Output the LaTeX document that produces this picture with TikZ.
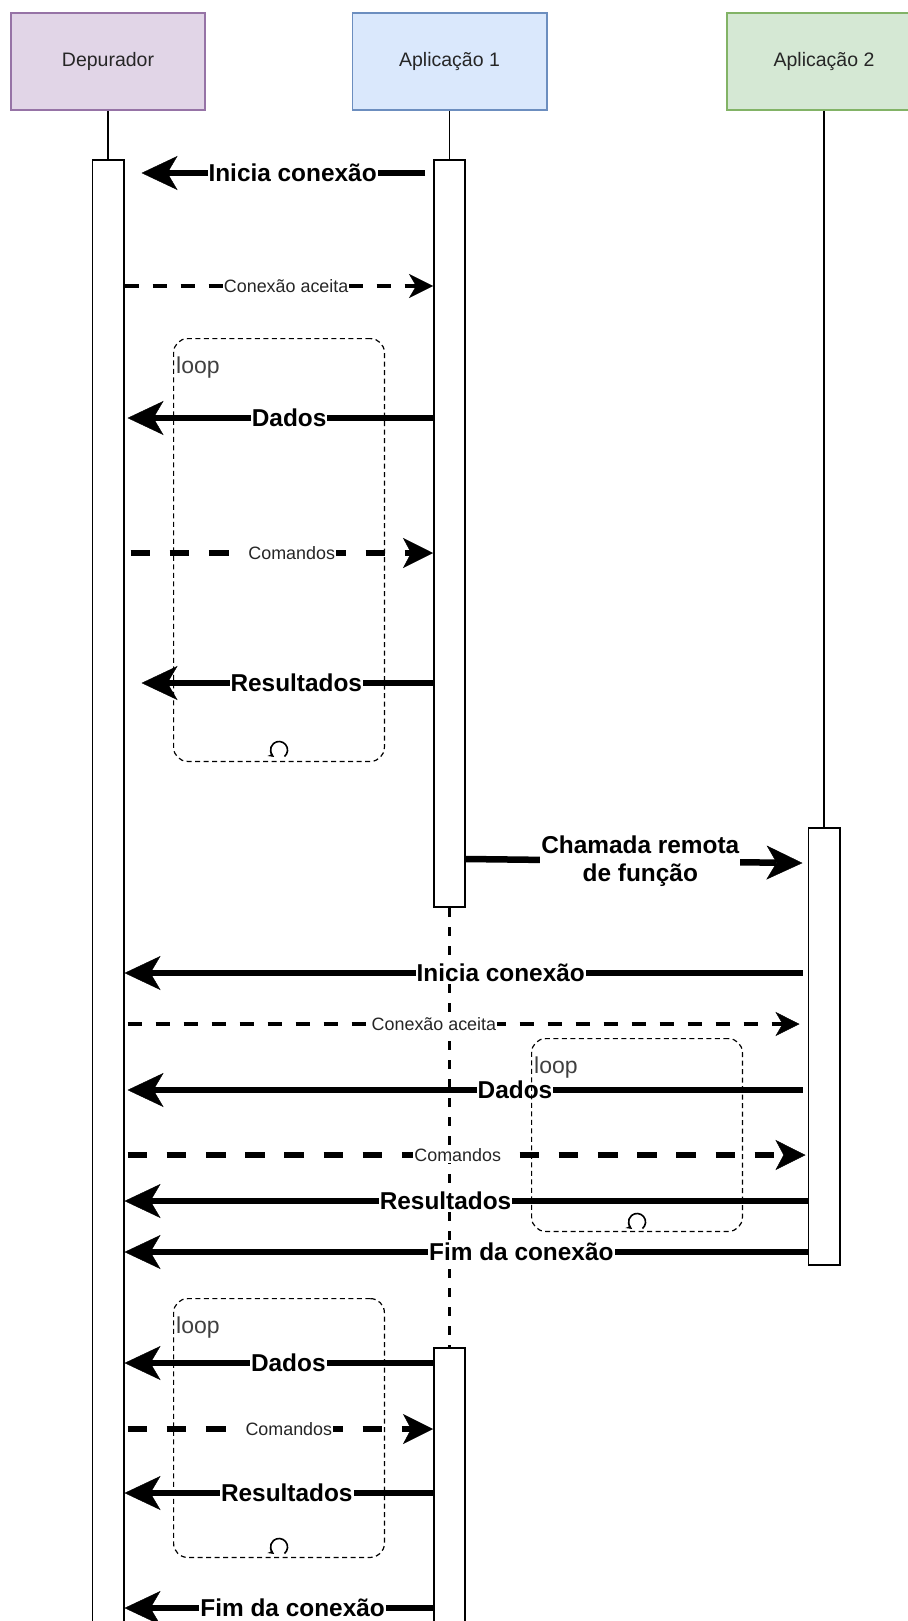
\documentclass[tikz,border=0pt]{standalone}
\usepackage{fontspec}
\setmainfont{Liberation Sans}
\usetikzlibrary{arrows.meta}
\definecolor{depfill}{HTML}{E1D5E7}
\definecolor{depline}{HTML}{9673A6}
\definecolor{appAfill}{HTML}{DAE8FC}
\definecolor{appAline}{HTML}{6C8EBF}
\definecolor{appBfill}{HTML}{D5E8D4}
\definecolor{appBline}{HTML}{82B366}
\tikzset{
  actor/.style={draw, line width=1.6pt, minimum width=194.4pt, minimum height=97.4pt, inner sep=0pt, text=black!85, font=\fontsize{19.5pt}{23pt}\selectfont},
  actbar/.style={draw, line width=1.6pt, fill=white, minimum width=31.4pt, inner sep=0pt, anchor=north},
  lifeline/.style={line width=1.6pt},
  gapline/.style={line width=3pt, dash pattern=on 9pt off 10pt},
  callarrow/.style={line width=6.5pt, -{Stealth[length=36pt, width=34pt, inset=10pt, line width=0.4pt]}},
  replyarrow/.style={line width=4.7pt, dash pattern=on 14pt off 14pt, -{Stealth[length=24pt, width=24pt, inset=7pt, line width=0.4pt]}},
  cmdarrow/.style={line width=6.5pt, dash pattern=on 19.6pt off 19.6pt, -{Stealth[length=30pt, width=30pt, inset=8pt, line width=0.4pt]}},
  biglabel/.style={fill=white, inner sep=1pt, font=\bfseries\fontsize{24.4pt}{28pt}\selectfont},
  smalllabel/.style={fill=white, inner sep=1pt, text=black!85, font=\fontsize{17.9pt}{20pt}\selectfont},
  loopbox/.style={draw, line width=1.2pt, dash pattern=on 5pt off 3.5pt, rounded corners=14pt, minimum width=210.8pt, inner sep=0pt, anchor=north west},
  looptag/.style={anchor=north west, inner sep=0pt, text=black!75, font=\fontsize{23pt}{26pt}\selectfont},
  loopicon/.style={line width=1.6pt, -{Stealth[length=6pt, width=6pt]}}
}
\begin{document}
\begin{tikzpicture}[x=1pt, y=-1pt]
\useasboundingbox (0,0) rectangle (907,1621);
\node[actor, fill=depfill, draw=depline] (dep) at (108,61.5) {Depurador};
\node[actor, fill=appAfill, draw=appAline] (appA) at (449.5,61.5) {Aplicação 1};
\node[actor, fill=appBfill, draw=appBline] (appB) at (824,61.5) {Aplicação 2};
\node[actbar, minimum height=1540pt] (depbar) at (108,159) {};
\node[actbar, minimum height=747.4pt] (appAbar) at (449.5,159) {};
\node[actbar, minimum height=437.4pt] (appBbar) at (824,827) {};
\node[actbar, minimum height=351pt] (appAbar2) at (449.5,1347) {};
\draw[lifeline] (dep.south) -- (depbar.north);
\draw[lifeline] (appA.south) -- (appAbar.north);
\draw[lifeline] (appB.south) -- (appBbar.north);
\draw[gapline] (appAbar.south) -- (appAbar2.north);

\draw[callarrow] ([xshift=-8pt]appAbar.west |- 0,173) -- node[biglabel, pos=0.467] {Inicia conexão} ([xshift=17pt]depbar.east |- 0,173);
\draw[replyarrow] (depbar.east |- 0,286) -- node[smalllabel, pos=0.524] {Conexão aceita} (appAbar.west |- 0,286);
\draw[callarrow] (appAbar.west |- 0,418) -- node[biglabel, pos=0.471] {Dados} ([xshift=3pt]depbar.east |- 0,418);
\draw[cmdarrow] ([xshift=6pt]depbar.east |- 0,553) -- node[smalllabel, pos=0.533] {Comandos} (appAbar.west |- 0,553);
\draw[callarrow] (appAbar.west |- 0,683) -- node[biglabel, pos=0.469] {Resultados} ([xshift=17pt]depbar.east |- 0,683);
\draw[callarrow] (appAbar.east |- 0,859) -- node[biglabel, align=center, pos=0.518] {Chamada remota\\de função} ([xshift=-5pt]appBbar.west |- 0,863);
\draw[callarrow] ([xshift=-5pt]appBbar.west |- 0,973) -- node[biglabel, pos=0.445] {Inicia conexão} (depbar.east |- 0,973);
\draw[replyarrow] ([xshift=3pt]depbar.east |- 0,1024) -- node[smalllabel, pos=0.456] {Conexão aceita} ([xshift=-8pt]appBbar.west |- 0,1024);
\draw[callarrow] ([xshift=-5pt]appBbar.west |- 0,1090) -- node[biglabel, pos=0.426] {Dados} ([xshift=3pt]depbar.east |- 0,1090);
\draw[cmdarrow] ([xshift=3pt]depbar.east |- 0,1155) -- node[smalllabel, pos=0.487] {Comandos} ([xshift=-2pt]appBbar.west |- 0,1155);
\draw[callarrow] (appBbar.west |- 0,1201) -- node[biglabel, pos=0.53] {Resultados} (depbar.east |- 0,1201);
\draw[callarrow] (appBbar.west |- 0,1252) -- node[biglabel, pos=0.419] {Fim da conexão} (depbar.east |- 0,1252);
\draw[callarrow] (appAbar2.west |- 0,1363) -- node[biglabel, pos=0.469] {Dados} (depbar.east |- 0,1363);
\draw[cmdarrow] ([xshift=3pt]depbar.east |- 0,1429) -- node[smalllabel, pos=0.528] {Comandos} (appAbar2.west |- 0,1429);
\draw[callarrow] (appAbar2.west |- 0,1493) -- node[biglabel, pos=0.474] {Resultados} (depbar.east |- 0,1493);
\draw[callarrow] (appAbar2.west |- 0,1608) -- node[biglabel, pos=0.455] {Fim da conexão} (depbar.east |- 0,1608);

\node[loopbox, minimum height=422.8pt] (loopA) at (173,338) {};
\node[loopbox, minimum height=192.8pt] (loopB) at (531,1038) {};
\node[loopbox, minimum height=258.8pt] (loopC) at (173,1298) {};
\node[looptag] at ([xshift=3pt, yshift=-19pt]loopA.north west) {loop};
\node[looptag] at ([xshift=3pt, yshift=-19pt]loopB.north west) {loop};
\node[looptag] at ([xshift=3pt, yshift=-19pt]loopC.north west) {loop};
\draw[loopicon] (284.5,756.5) arc[start angle=50, end angle=-235, radius=8.5];
\draw[loopicon] (642.5,1228.5) arc[start angle=50, end angle=-235, radius=8.5];
\draw[loopicon] (284.5,1553.5) arc[start angle=50, end angle=-235, radius=8.5];
\end{tikzpicture}
\end{document}
